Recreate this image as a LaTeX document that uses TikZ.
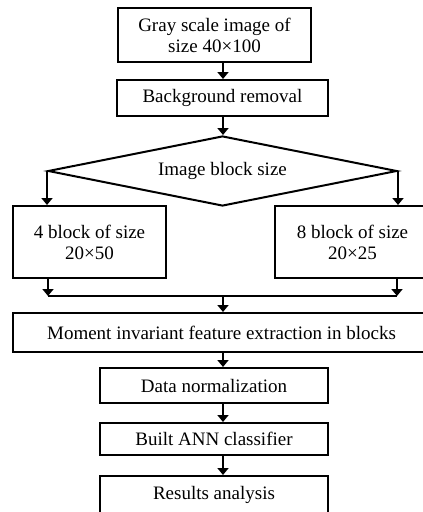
\documentclass[tikz,border=0pt]{standalone}
\usepackage{fontspec}
\setmainfont{Liberation Serif}
\usetikzlibrary{shapes.geometric,arrows.meta}
\begin{document}
\begin{tikzpicture}[x=1pt,y=-1pt,
  box/.style={draw,line width=2pt,rectangle,inner sep=0pt,align=center,font=\fontsize{19}{21}\selectfont},
  arr/.style={line width=2pt,-{Triangle[length=7pt,width=11pt]}},
  ln/.style={line width=2pt}]
\useasboundingbox (0,0) rectangle (423,512);
\node[box,minimum width=193pt,minimum height=54pt] (b1) at (214.5,35) {Gray scale image of\\size 40×100};
\node[box,minimum width=211pt,minimum height=36pt] (b2) at (222.5,98) {Background removal};
\node[box,diamond,aspect=6,minimum width=349pt,minimum height=70pt] (dec) at (222.5,171) {Image block size};
\node[box,minimum width=153pt,minimum height=72pt] (b3) at (89.5,242) {4 block of size\\20×50};
\node[box,minimum width=155pt,minimum height=72pt] (b4) at (352.5,242) {8 block of size\\20×25};
\node[box,minimum width=417pt,minimum height=39pt] (b5) at (221.5,332.5) {Moment invariant feature extraction in blocks};
\node[box,minimum width=228pt,minimum height=35pt] (b6) at (214,385.5) {Data normalization};
\node[box,minimum width=228pt,minimum height=32pt] (b7) at (214,439) {Built ANN classifier};
\node[box,minimum width=228pt,minimum height=38pt] (b8) at (214,495) {Results analysis};
\coordinate (ax) at (223,0);
\coordinate (mL) at (48,296);
\coordinate (mR) at (397,296);
\draw[arr] (b1.south -| ax) -- (b2.north -| ax);
\draw[arr] (b2.south -| ax) -- (dec.north -| ax);
\draw[arr] (dec.west) -- (dec.west |- b3.north);
\draw[arr] (dec.east) -- (dec.east |- b4.north);
\draw[arr] (b3.south -| mL) -- (mL);
\draw[arr] (b4.south -| mR) -- (mR);
\draw[ln] (mL) -- (mR);
\draw[arr] (mL -| ax) -- (b5.north -| ax);
\draw[arr] (b5.south -| ax) -- (b6.north -| ax);
\draw[arr] (b6.south -| ax) -- (b7.north -| ax);
\draw[arr] (b7.south -| ax) -- (b8.north -| ax);
\end{tikzpicture}
\end{document}
